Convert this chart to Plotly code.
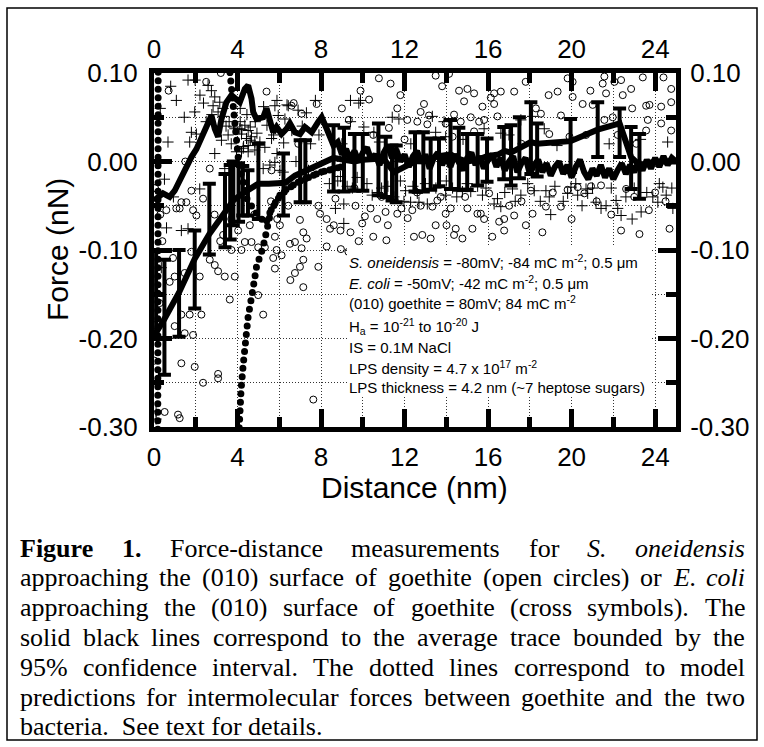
import plotly.graph_objects as go

# ---------------- data ----------------
x_tick_vals = [0, 4, 8, 12, 16, 20, 24]
x_tick_text = ["0", "4", "8", "12", "16", "20", "24"]
x_minor_vals = [2, 6, 10, 14, 18, 22]
y_tick_vals = [0.10, 0.00, -0.10, -0.20, -0.30]
y_tick_text = ["0.10", "0.00", "-0.10", "-0.20", "-0.30"]
y_minor_vals = [0.05, -0.05, -0.15, -0.25]

# S. oneidensis approach curves (open circles)
so_x = [5.39, 6.59, 7.07, 7.79, 2.67, 1.79, 1.31, 1.07, 0.59, 0.05, 2.35, 1.55, 1.87, 1.23, 2.03, 3.31, 4.03, 4.59, 4.35, 4.67,
        4.99, 5.31, 5.79, 6.03, 6.43, 6.99, 7.15, 7.31, 6.75, 6.51, 7.07, 7.95, 8.27, 8.43, 7.87, 5.63, 6.91, 3.17, 6.69, 0.3,
        1.79, 2.67, 2.91, 3.07, 3.39, 3.87, 3.71, 4.19, 0.91, 0.75, 0.99, 1.47, 2.19, 0.27, 0.03, 1.31, 1.71, 2.27, 0.99, 1.47,
        1.87, 1.31, 1.95, 3.07, 3.07, 2.35, 0.51, 1.15, 1.23, 3.63, 5.23, 4.99, 5.79, 6.11, 5.71, 6.75, 7.15, 6.99, 7.15, 5.87,
        8.27, 7.87, 7.63, 9.31, 0.02, 6.53, 8.95,
        10.77, 11.33, 9.89, 13.49, 14.13, 14.61, 15.01, 15.33, 16.29, 16.61, 11.65, 12.93, 12.77, 13.17, 12.61, 12.13, 15.17, 15.57, 15.81, 16.29,
        9.33, 8.69, 9.65, 10.37, 10.69, 11.09, 11.65, 12.37, 12.77, 13.57, 14.21, 15.01, 15.49, 15.81, 16.53, 16.77, 8.61, 8.93, 9.41, 9.97,
        11.13, 12.85, 13.25, 13.49, 14.01, 14.37, 14.77, 11.25, 13.09, 11.85, 12.15, 11.2, 12.45, 10.1, 14.85, 15.73, 14.37, 13.97, 14.69, 16.45,
        15.33, 16.13, 13.33, 13.73, 13.97, 14.45, 15.25, 15.65, 16.05, 16.77,
        17.25, 18.29, 20.05, 20.05, 20.53, 21.49, 22.37, 22.85, 22.45, 23.41, 24.77, 24.77, 23.57, 24.29, 24.77, 19.49, 18.93, 20.69, 21.97, 23.57,
        17.01, 18.05, 18.13, 17.25, 17.81, 18.77, 19.49, 20.29, 20.61, 22.61, 22.37, 23.25, 24.69, 19.81, 21.57, 22.05, 19.33, 21.01, 21.65, 23.73,
        24.29, 18.53, 21.57, 22.21, 23.65, 19.81, 20.93, 21.41, 23.0, 24.0,
        9.0, 10.3, 11.8, 13.8, 17.8, 18.9, 20.9, 22.9, 24.4, 10.5, 12.0, 14.3, 17.6, 19.9, 23.1, 9.6, 10.9, 12.6, 14.9, 17.6,
        19.1, 21.2, 21.9, 23.7, 24.5, 20.0, 18.6, 16.2, 10.5, 9.8, 2.5, 3.2, 0.7, 1.5, 0.4, 2.9, 3.7, 4.8, 5.6, 5.9]
so_y = [0.079, 0.063, 0.054, 0.065, -0.008, -0.033, -0.046, -0.053, -0.055, -0.03, -0.042, -0.046, -0.055, -0.053, -0.061, -0.083, -0.078, -0.072, -0.091, -0.091,
        -0.097, -0.097, -0.085, -0.072, -0.05, -0.066, -0.08, -0.087, -0.091, -0.093, -0.098, -0.059, -0.065, -0.076, -0.05, -0.01, 0.02, -0.09, 0.066, -0.06,
        -0.102, -0.111, -0.117, -0.124, -0.13, -0.13, -0.1, -0.1, -0.109, -0.136, -0.13, -0.126, -0.13, -0.16, -0.185, -0.173, -0.173, -0.173, -0.186, -0.194,
        -0.196, -0.228, -0.232, -0.24, -0.245, -0.25, -0.283, -0.286, -0.29, -0.156, -0.173, -0.151, -0.121, -0.106, -0.109, -0.126, -0.142, -0.119, -0.111, -0.1,
        -0.096, -0.119, -0.269, -0.102, -0.225, -0.134, -0.099,
        0.094, 0.088, 0.080, 0.097, 0.099, 0.080, 0.082, 0.077, 0.077, 0.079, 0.06, 0.065, 0.056, 0.052, 0.045, 0.047, 0.05, 0.045, 0.047, 0.065,
        0.047, -0.042, -0.05, -0.053, -0.065, -0.057, -0.059, -0.055, -0.05, -0.044, -0.053, -0.053, -0.059, -0.065, -0.068, -0.065, -0.072, -0.078, -0.08, -0.07,
        -0.089, -0.083, -0.087, -0.072, -0.072, -0.083, -0.087, 0.038, 0.042, -0.053, -0.064, -0.072, -0.085, -0.062, 0.068, 0.062, 0.053, 0.043, 0.045, 0.051,
        0.034, 0.072, -0.051, -0.04, -0.059, -0.076, -0.076, -0.059, -0.036, -0.078,
        0.079, 0.06, 0.09, 0.073, 0.065, 0.088, 0.092, 0.082, 0.075, 0.095, 0.082, 0.067, 0.063, 0.043, 0.035, 0.052, 0.031, 0.03, 0.05, 0.035,
        -0.05, -0.033, -0.059, -0.061, -0.072, -0.051, -0.051, -0.029, -0.036, -0.031, -0.078, -0.082, -0.076, 0.094, 0.096, 0.09, 0.079, 0.064, 0.077, 0.064,
        0.062, 0.054, 0.047, 0.03, 0.047, -0.032, -0.028, -0.027, -0.04, -0.035,
        0.06, 0.07, 0.075, 0.085, 0.09, 0.075, 0.08, 0.06, 0.095, 0.03, 0.025, 0.028, 0.02, 0.028, 0.02, -0.03, -0.04, -0.035, -0.04, -0.045,
        -0.035, -0.045, -0.06, -0.055, -0.045, -0.065, -0.08, -0.085, -0.085, -0.09, 0.09, 0.1, 0.08, 0.0, -0.09, -0.06, -0.065, -0.06, -0.045, -0.065]

# E. coli approach curves (cross symbols)
ec_x = [1.63, 2.59, 2.75, 1.07, 2.91, 3.15, 2.83, 3.31, 3.07, 1.95, 1.79, 2.03, 1.71, 0.67, 2.91, 3.23, 3.55, 3.87, 4.11, 4.35,
        4.51, 4.19, 4.43, 4.67, 4.83, 5.07, 4.51, 4.27, 3.95, 4.19, 4.51, 4.83, 5.31, 5.63, 5.79, 6.43, 5.95, 6.27, 5.23, 5.55,
        5.79, 6.03, 6.19, 3.39, 1.31, 1.63, 2.19, 7.73, 5.25, 5.73, 6.21, 0.93, 0.5, 1.97, 2.37, 0.1, 0.1, 0.35, 0.6, 7.1,
        7.5, 6.8,
        9.89, 9.41, 10.05, 10.53, 11.41, 11.73, 13.49, 13.97, 15.81, 10.45, 9.73, 12.05, 12.29, 12.69, 13.09, 13.97, 14.77, 15.17, 15.73, 16.29,
        16.61, 16.45, 9.09, 8.69, 13.33, 13.89, 16.61, 11.49, 11.97, 12.61, 14.3, 15.5, 10.9, 8.4,
        17.57, 18.13, 18.69, 18.77, 18.93, 19.81, 19.97, 20.29, 20.77, 20.69, 21.17, 21.41, 21.65, 22.13, 22.21, 22.37, 23.33, 23.89, 24.13, 24.37,
        24.53, 24.85, 17.17, 17.57, 18.21, 21.8, 24.6,
        2.77, 3.33, 4.13, 4.45, 4.13, 3.81, 4.21, 4.61, 4.85, 4.93, 4.61, 4.29, 5.41, 5.89, 6.37, 5.89, 9.41, 9.81, 8.93, 9.25,
        9.09, 3.6, 3.7, 3.45, 2.5, 2.2, 1.45, 0.3, 0.8, 6.6, 7.3, 6.9, 7.9, 7.4,
        8.8, 9.5, 10.2, 10.7, 11.2, 11.8, 12.4, 13.0, 13.5, 14.0, 14.5, 15.0, 15.9, 16.8, 17.3, 17.9, 18.5, 19.2, 19.6, 20.2,
        20.5, 21.0, 21.9, 22.6, 23.0, 23.6, 24.2, 24.8, 19.0, 22.9, 9.0, 10.8, 12.3, 14.8, 17.0, 19.3, 23.3]
ec_y = [0.092, 0.086, 0.08, 0.069, 0.073, 0.067, 0.063, 0.06, 0.056, 0.056, 0.033, 0.031, 0.022, 0.022, 0.009, 0.024, 0.03, 0.037, 0.037, 0.041,
        0.035, 0.031, 0.026, 0.028, 0.022, 0.022, 0.018, 0.015, 0.011, 0.011, 0.011, 0.013, 0.016, 0.026, 0.063, 0.063, 0.052, 0.048, -0.008, -0.004,
        -0.001, -0.01, -0.012, -0.008, -0.078, -0.076, -0.031, 0.069, 0.062, 0.03, 0.021, -0.04, -0.02, 0.092, 0.066, -0.282, -0.291, -0.12, -0.075, 0.04,
        0.02, 0.0,
        0.069, 0.045, 0.039, 0.033, 0.05, 0.048, 0.033, 0.028, 0.037, -0.038, -0.018, -0.033, -0.046, -0.046, -0.048, -0.038, -0.034, -0.034, -0.038, -0.048,
        -0.051, -0.042, -0.048, -0.053, 0.051, 0.045, 0.032, -0.04, -0.045, -0.036, -0.03, -0.028, -0.03, -0.025,
        0.047, 0.051, 0.037, -0.033, -0.04, -0.036, -0.029, -0.038, -0.036, -0.031, -0.046, -0.053, -0.05, -0.044, -0.053, -0.061, -0.057, -0.04, -0.046, -0.029,
        -0.038, -0.053, -0.031, -0.038, -0.033, 0.02, 0.022,
        0.053, 0.051, 0.06, 0.053, 0.045, 0.039, 0.036, 0.039, 0.045, 0.032, 0.024, 0.017, 0.041, 0.009, 0.064, 0.069, 0.069, 0.066, -0.017, -0.028,
        -0.07, 0.045, 0.02, 0.04, 0.045, 0.075, 0.05, 0.06, 0.085, 0.035, 0.055, 0.058, 0.03, -0.01,
        -0.022, -0.03, -0.025, -0.035, -0.028, -0.022, -0.028, -0.025, -0.03, -0.022, -0.04, -0.025, -0.03, -0.035, -0.045, -0.025, -0.045, -0.028, -0.045, -0.025,
        -0.05, -0.03, -0.03, -0.04, -0.03, -0.035, -0.025, -0.03, -0.06, -0.065, 0.02, 0.022, 0.02, 0.025, 0.03, 0.018, 0.025]

# average trace 1 (upper solid line)
avg1_x = [0.0, 0.11, 0.43, 0.75, 0.99, 1.31, 1.55, 1.79, 2.03, 2.35, 2.59, 2.75, 2.91, 3.07, 3.23, 3.47, 3.71, 3.95, 4.11, 4.35,
          4.51, 4.67, 4.75, 4.91, 5.23, 5.39, 5.55, 5.71, 5.87, 6.11, 6.35, 6.51, 6.75, 6.99, 7.23, 7.55, 7.87, 8.03, 8.27,
          8.4, 8.6, 8.8, 9.0, 9.2, 9.4, 9.6, 9.8, 10.0, 10.2,
          10.4, 10.6, 10.8, 11.0, 11.2, 11.4, 11.6, 11.8, 12.0, 12.2,
          12.4, 12.6, 12.8, 13.0, 13.2, 13.4, 13.6, 13.8, 14.0, 14.2,
          14.4, 14.6, 14.8, 15.0, 15.2, 15.4, 15.6, 15.8, 16.0, 16.2,
          16.4, 16.6, 16.8, 17.0, 17.2, 17.4, 17.6, 17.8, 18.0, 18.2,
          18.4, 18.6, 18.8, 19.0, 19.2, 19.4, 19.6, 19.8, 20.0, 20.2,
          20.4, 20.6, 20.8, 21.0, 21.2, 21.4, 21.6, 21.8, 22.0, 22.2,
          22.4, 22.6, 22.8, 23.0, 23.2, 23.4, 23.6, 23.8, 24.0, 24.2,
          24.4, 24.6, 24.8, 25.0]
avg1_y = [-0.045, -0.042, -0.036, -0.04, -0.033, -0.018, -0.004, 0.005, 0.014, 0.031, 0.047, 0.052, 0.037, 0.028, 0.048, 0.067, 0.075, 0.071, 0.067, 0.082,
          0.086, 0.071, 0.056, 0.048, 0.05, 0.06, 0.045, 0.033, 0.039, 0.031, 0.037, 0.043, 0.033, 0.031, 0.039, 0.033, 0.045, 0.05, 0.037,
          0.028, 0.018, 0.022, 0.008, 0.014, 0.002, 0.012, 0.0, 0.010, 0.016,
          0.002, 0.008, -0.004, 0.010, 0.018, 0.004, 0.014, 0.0, 0.008, -0.006,
          0.006, 0.012, -0.002, 0.008, -0.008, 0.004, 0.010, -0.004, 0.006, -0.006,
          0.008, 0.0, -0.010, 0.004, 0.010, -0.004, 0.006, -0.008, 0.002, 0.008,
          -0.006, 0.004, -0.010, 0.0, 0.006, -0.012, -0.002, 0.004, -0.014, -0.004,
          0.002, -0.012, -0.002, -0.016, -0.006, 0.0, -0.014, -0.004, -0.018, -0.006,
          0.002, -0.012, -0.020, -0.008, -0.016, -0.004, -0.018, -0.008, -0.020, -0.010,
          -0.002, -0.014, -0.004, -0.012, 0.0, -0.010, 0.002, -0.008, 0.004, -0.006,
          0.006, -0.004, 0.004, 0.0]

# average trace 2 (lower solid line)
avg2_x = [0.0, 0.5, 1.2, 1.95, 2.65, 3.4, 3.8, 4.25, 4.6, 5.0, 5.5, 6.3, 6.75, 7.25, 7.7, 8.2, 8.6, 9.1, 9.6, 10.0,
          10.75, 11.1, 11.5, 12.0, 12.5, 12.9, 13.25, 13.65, 14.2, 14.6, 15.0, 15.5, 15.95, 16.5, 16.8, 17.1, 17.5, 18.05, 18.35, 19.95,
          21.25, 22.0, 22.3, 22.85, 23.25, 24.0, 25.0]
avg2_y = [-0.197, -0.178, -0.148, -0.11, -0.082, -0.056, -0.044, -0.036, -0.03, -0.025, -0.025, -0.024, -0.016, -0.011, -0.005, 0.0, 0.004, 0.002, 0.0, 0.002,
          0.003, 0.0, -0.012, -0.006, 0.0, 0.001, 0.004, 0.006, 0.008, 0.003, 0.0, 0.002, 0.006, 0.008, 0.012, 0.01, 0.015, 0.022, 0.02, 0.023,
          0.036, 0.04, 0.043, 0.005, -0.004, 0.0, 0.0]

# 95% confidence interval bounds
ci_x = [0.1, 0.5, 1.2, 1.95, 2.65, 3.4, 3.65, 3.8, 4.05, 4.25, 4.5, 5.0, 6.2, 7.0, 7.25, 8.6, 9.1, 9.6, 10.0, 10.75,
        11.1, 11.4, 11.6, 12.5, 12.9, 13.25, 13.65, 14.2, 14.6, 15.0, 15.5, 15.95, 16.75, 17.1, 17.5, 18.05, 18.35, 19.95, 21.25, 22.3,
        22.85, 23.25]
ci_hi = [-0.10, -0.111, -0.10, -0.078, -0.025, -0.014, -0.004, 0.0, -0.002, -0.005, -0.01, 0.02, 0.009, 0.024, 0.024, 0.041, 0.038, 0.031, 0.031, 0.043,
         0.028, 0.018, 0.018, 0.033, 0.033, 0.026, 0.026, 0.047, 0.038, 0.031, 0.031, 0.026, 0.039, 0.041, 0.05, 0.067, 0.043, 0.048, 0.067, 0.06,
         0.039, 0.031]
ci_lo = [-0.20, -0.241, -0.198, -0.166, -0.105, -0.097, -0.088, -0.072, -0.068, -0.061, -0.061, -0.065, -0.061, -0.046, -0.046, -0.034, -0.034, -0.033, -0.033, -0.038,
         -0.040, -0.044, -0.046, -0.034, -0.034, -0.032, -0.028, -0.031, -0.032, -0.032, -0.027, -0.023, -0.02, -0.027, -0.019, -0.014, -0.017, -0.012, 0.005, 0.005,
         -0.031, -0.042]

# model predictions (dotted lines)
modelA_x = [0.2, 0.2, 0.19, 0.19, 0.18, 0.18]
modelA_y = [0.12, 0.05, -0.05, -0.15, -0.25, -0.32]
modelB_x = [3.6, 3.65, 3.8, 3.9, 3.97, 4.05, 4.2, 4.45, 4.85, 5.1, 5.35, 5.6, 6.0, 6.4, 7.0, 8.0, 9.0]
modelB_y = [0.11, 0.10, 0.07, 0.05, 0.02, 0.0, -0.02, -0.042, -0.057, -0.064, -0.07, -0.055, -0.04, -0.031, -0.022, -0.012, -0.006]
modelC_x = [4.04, 4.06, 4.08, 4.17, 4.27, 4.4, 4.51, 4.72, 4.91, 5.23, 5.4, 5.63, 6.03, 6.35, 7.0, 8.0, 9.0]
modelC_y = [-0.32, -0.30, -0.29, -0.258, -0.23, -0.198, -0.175, -0.147, -0.119, -0.096, -0.074, -0.053, -0.038, -0.031, -0.022, -0.012, -0.006]

legend_lines = [
    "<i>S. oneidensis</i> = -80mV; -84 mC m<sup>-2</sup>; 0.5 \u03bcm",
    "<i>E. coli</i> = -50mV; -42 mC m<sup>-2</sup>; 0.5 \u03bcm",
    "(010) goethite = 80mV; 84 mC m<sup>-2</sup>",
    "H<sub>a</sub> = 10<sup>-21</sup> to 10<sup>-20</sup> J",
    "IS = 0.1M NaCl",
    "LPS density = 4.7 x 10<sup>17</sup> m<sup>-2</sup>",
    "LPS thickness = 4.2 nm (~7 heptose sugars)",
]

caption_lines = [
    "Figure 1. Force-distance measurements for S. oneidensis",
    "approaching the (010) surface of goethite (open circles) or E. coli",
    "approaching the (010) surface of goethite (cross symbols). The",
    "solid black lines correspond to the average trace bounded by the",
    "95% confidence interval. The dotted lines correspond to model",
    "predictions for intermolecular forces between goethite and the two",
]
caption_last = "bacteria.\u00a0 See text for details."
bold_words = {"Figure", "1."}
italic_words = {"S.", "oneidensis", "E.", "coli"}

# ---------------- layout geometry ----------------
W, H = 764, 747
ML, MR, MT, MB = 154, 88, 73, 320
PW, PH = W - ML - MR, H - MT - MB


def pxx(p):
    return (p - ML) / PW


def pxy(p):
    return (H - MB - p) / PH


# Times metrics (units per 1000 em)
TIMES = {' ': 250, '%': 833, '(': 333, ')': 333, ',': 250, '-': 333, '.': 250, '~': 541}
for ch in '0123456789':
    TIMES[ch] = 500
TIMES.update(dict(zip('abcdefghijklmnopqrstuvwxyz',
                      [444, 500, 444, 500, 444, 333, 500, 500, 278, 278, 500, 278, 778, 500, 500, 500, 500, 333, 389, 278, 500, 500, 722, 500, 500, 444])))
TIMES.update({'A': 722, 'B': 667, 'C': 667, 'D': 722, 'E': 611, 'F': 556, 'S': 556, 'T': 611})
TIMES_B = dict(TIMES)
TIMES_B.update({'F': 611, 'u': 556, 'r': 444})
TIMES_I = dict(TIMES)
TIMES_I.update({'S': 500})


def word_width(w, fs):
    tab = TIMES_B if w in bold_words else (TIMES_I if w in italic_words else TIMES)
    return sum(tab.get(c, 500) for c in w) * fs / 1000.0


def styled(w):
    if w in bold_words:
        return "<b>%s</b>" % w
    if w in italic_words:
        return "<i>%s</i>" % w
    return w


fig = go.Figure()

mk_line = dict(color="black", width=1)
fig.add_trace(go.Scatter(x=so_x, y=so_y, mode="markers", name="S. oneidensis",
                         marker=dict(symbol="circle-open", size=7, color="black", line=mk_line)))
fig.add_trace(go.Scatter(x=ec_x, y=ec_y, mode="markers", name="E. coli",
                         marker=dict(symbol="cross-thin-open", size=8, color="black", line=mk_line)))
for mx, my in [(modelA_x, modelA_y), (modelB_x, modelB_y), (modelC_x, modelC_y)]:
    fig.add_trace(go.Scatter(x=mx, y=my, mode="lines", line=dict(color="black", width=7, dash="1px,8px")))
fig.add_trace(go.Scatter(x=avg1_x, y=avg1_y, mode="lines", line=dict(color="black", width=6)))
fig.add_trace(go.Scatter(x=avg2_x, y=avg2_y, mode="lines", line=dict(color="black", width=6)))
ci_mid = [(h + l) / 2 for h, l in zip(ci_hi, ci_lo)]
ci_half = [(h - l) / 2 for h, l in zip(ci_hi, ci_lo)]
fig.add_trace(go.Scatter(x=ci_x, y=ci_mid, mode="markers", marker=dict(size=1, opacity=0),
                         error_y=dict(type="data", array=ci_half, symmetric=True, color="black", thickness=4, width=6.5)))
# helper trace for top/right axes
fig.add_trace(go.Scatter(x=[None], y=[None], xaxis="x2", yaxis="y2", mode="markers"))

tickfont = dict(family="Liberation Sans, Arial, sans-serif", size=26, color="black")
common = dict(showline=True, linewidth=5, linecolor="black", ticks="inside", ticklen=18, tickwidth=5,
              tickcolor="black", zeroline=False, tickfont=tickfont, fixedrange=True)
gridstyle = dict(gridcolor="#333", gridwidth=1, griddash="1px,2px")

fig.update_layout(
    width=W, height=H, margin=dict(l=ML, r=MR, t=MT, b=MB, pad=0),
    paper_bgcolor="white", plot_bgcolor="white", showlegend=False,
    xaxis=dict(range=[0, 25], tickmode="array", tickvals=x_tick_vals, ticktext=x_tick_text, showgrid=True, **gridstyle,
               ticklabelstandoff=3,
               minor=dict(tickmode="array", tickvals=x_minor_vals, ticks="inside", ticklen=10, tickwidth=5, tickcolor="black",
                          showgrid=True, **gridstyle), **common),
    yaxis=dict(range=[-0.30, 0.10], tickmode="array", tickvals=y_tick_vals, ticktext=y_tick_text, showgrid=True, **gridstyle,
               ticklabelstandoff=6,
               minor=dict(tickmode="array", tickvals=y_minor_vals, ticks="inside", ticklen=10, tickwidth=5, tickcolor="black",
                          showgrid=True, **gridstyle), **common),
    xaxis2=dict(range=[0, 25], overlaying="y" if False else "x", side="top", tickmode="array", tickvals=x_tick_vals,
                ticktext=x_tick_text, showgrid=False,
                minor=dict(tickmode="array", tickvals=x_minor_vals, ticks="inside", ticklen=10, tickwidth=5, tickcolor="black"),
                **common),
    yaxis2=dict(range=[-0.30, 0.10], overlaying="y", side="right", tickmode="array", tickvals=y_tick_vals,
                ticktext=y_tick_text, showgrid=False, ticklabelstandoff=4,
                minor=dict(tickmode="array", tickvals=y_minor_vals, ticks="inside", ticklen=10, tickwidth=5, tickcolor="black"),
                **common),
)

shapes = [
    dict(type="rect", xref="paper", yref="paper", x0=pxx(7), x1=pxx(757), y0=pxy(8), y1=pxy(740),
         line=dict(color="black", width=1.5), fillcolor="rgba(0,0,0,0)", layer="above"),
    dict(type="rect", xref="paper", yref="paper", x0=pxx(347), x1=pxx(652), y0=pxy(246), y1=pxy(396),
         line=dict(width=0), fillcolor="white", layer="above"),
]
fig.update_layout(shapes=shapes)

ann = []
title_font = dict(family="Liberation Sans, Arial, sans-serif", size=30, color="black")
# axis titles
ann.append(dict(text="Force (nN)", x=pxx(57), y=pxy(250), xref="paper", yref="paper", showarrow=False, textangle=-90,
                xanchor="center", yanchor="middle", font=title_font))
ann.append(dict(text="Distance (nm)", x=pxx(414), y=pxy(487), xref="paper", yref="paper", showarrow=False,
                xanchor="center", yanchor="middle", font=title_font))
# parameter text block
leg_y = [261.5, 282, 302.5, 326.5, 347, 367.5, 387]
for t, yy in zip(legend_lines, leg_y):
    ann.append(dict(text=t, x=pxx(349), y=pxy(yy), xref="paper", yref="paper", showarrow=False, xanchor="left",
                    yanchor="middle", borderpad=0, borderwidth=0,
                    font=dict(family="Liberation Sans, Arial, sans-serif", size=15, color="black")))
# caption (justified)
CFS = 26
X0, X1 = 20, 745
CAP_TOP, CAP_STEP = 548, 29.8
cfont = dict(family="Liberation Serif, Times New Roman, serif", size=CFS, color="black")
for i, line in enumerate(caption_lines):
    yy = CAP_TOP + i * CAP_STEP
    words = line.split(" ")
    ws = [word_width(w, CFS) for w in words]
    gap = (X1 - X0 - sum(ws)) / (len(words) - 1)
    xcur = X0
    for w, wd in zip(words, ws):
        ann.append(dict(text=styled(w), x=pxx(xcur), y=pxy(yy), xref="paper", yref="paper", showarrow=False,
                        xanchor="left", yanchor="middle", borderpad=0, borderwidth=0, font=cfont))
        xcur += wd + gap
ann.append(dict(text=caption_last, x=pxx(X0), y=pxy(CAP_TOP + 6 * CAP_STEP), xref="paper", yref="paper",
                showarrow=False, xanchor="left", yanchor="middle", borderpad=0, borderwidth=0, font=cfont))
fig.update_layout(annotations=ann)

post = """
var gds = document.querySelectorAll('.plotly-graph-div');
gds.forEach(function(gd){
  gd.querySelectorAll('path.js-line').forEach(function(p){
    var d = p.style.strokeDasharray || '';
    if (d.indexOf('1px') === 0 || d.indexOf('1,') === 0) {
      p.style.strokeLinecap = 'round';
      p.style.strokeDasharray = '0px, 8.5px';
    }
  });
});
"""
fig.write_html("out.html", config={"displayModeBar": False}, post_script=post)
